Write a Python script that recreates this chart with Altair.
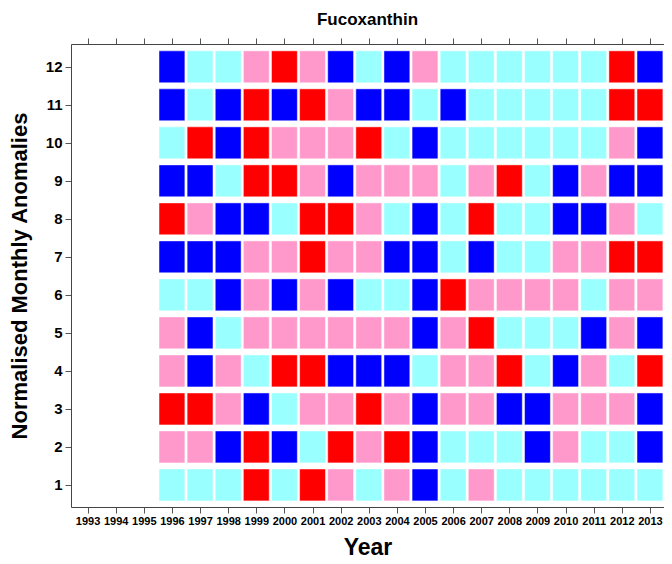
import altair as alt
import pandas as pd

years = list(range(1996, 2014))
month_labels = list(range(1, 13))

# anomaly class per month row, 1996..2013  (R=red, P=pink, C=cyan, B=blue)
m12 = list("BCCPRPBCBPCCCCCCRB")
m11 = list("BCBRBRPBBCBCCCCCRR")
m10 = list("CRBRPPPRCBCCCCCCPB")
m9 = list("BBCRRPBPPPCPRCBPBB")
m8 = list("RPBBCRRPCBCRCCBBPC")
m7 = list("BBBPPRPPBBCBCCPPRR")
m6 = list("CCBPBPBCCBRPPPPCPP")
m5 = list("PBCPPPPPPBPRCCCBPB")
m4 = list("PBPCRRBBBCPPRCBPCR")
m3 = list("RRPBCPPRPBPPBBPPPB")
m2 = list("PPBRBCRPRBCCCBPCCB")
m1 = list("CCCRCRPCPBCPCCCCCC")

rows = {1: m1, 2: m2, 3: m3, 4: m4, 5: m5, 6: m6, 7: m7, 8: m8,
        9: m9, 10: m10, 11: m11, 12: m12}

x_ticks = list(range(1993, 2014))
categories = ["R", "P", "C", "B"]
colors = ["#FF0000", "#FF99CC", "#99FFFF", "#0000FF"]

records = []
for m, vals in rows.items():
    for y, c in zip(years, vals):
        records.append({"year": y, "month": m, "cls": c})
df = pd.DataFrame(records)

FONT = "Liberation Sans"
xscale = alt.Scale(domain=[1992.41, 2013.5], nice=False, zero=False)
yscale = alt.Scale(domain=[0.42, 12.6], nice=False, zero=False)

base = alt.Chart(df).transform_calculate(
    x0="datum.year - 0.46", x1="datum.year + 0.46",
    y0="datum.month - 0.42", y1="datum.month + 0.42",
)

cells = base.mark_rect(stroke="white", strokeWidth=0.8, strokeOpacity=0.6).encode(
    x=alt.X("x0:Q", scale=xscale,
            axis=alt.Axis(orient="bottom", values=x_ticks, format="d", title="Year",
                          titleFontSize=23, titleFontWeight="bold", titleFont=FONT,
                          titleColor="black", titleY=47, titleBaseline="alphabetic",
                          labelFontSize=11, labelFontWeight="bold", labelFont=FONT,
                          labelColor="black", labelPadding=2, tickSize=6,
                          grid=False, domainColor="#444", tickColor="#555",
                          labelFlush=False, labelOverlap=False)),
    x2="x1:Q",
    y=alt.Y("y0:Q", scale=yscale,
            axis=alt.Axis(values=month_labels, format="d",
                          title="Normalised Monthly Anomalies",
                          titleFontSize=22, titleFontWeight="bold", titleFont=FONT,
                          titleColor="black", titleX=-45, titleY=231.5,
                          titleAngle=270, titleBaseline="alphabetic", titleAlign="center",
                          labelFontSize=15, labelFontWeight="bold", labelFont=FONT,
                          labelColor="black", labelPadding=3, tickSize=6,
                          grid=False, domainColor="#444", tickColor="#555",
                          labelFlush=False)),
    y2="y1:Q",
    color=alt.Color("cls:N", scale=alt.Scale(domain=categories, range=colors), legend=None),
)

top_axis = alt.Chart(pd.DataFrame({"year": x_ticks})).mark_tick(opacity=0).encode(
    x=alt.X("year:Q", scale=xscale,
            axis=alt.Axis(orient="top", values=x_ticks, labels=False, title="",
                          tickSize=6, grid=False, domainColor="#444", tickColor="#555")),
)

chart = alt.layer(cells, top_axis).resolve_axis(x="independent").properties(
    width=593,
    height=463,
    autosize=alt.AutoSizeParams(type="none"),
    padding={"left": 63, "top": 36, "right": 0, "bottom": 49},
    title=alt.TitleParams("Fucoxanthin", fontSize=17, fontWeight="bold", font=FONT,
                          color="black", offset=9, anchor="middle"),
).configure_view(stroke=None).configure(background="white")

chart.save("out.html", embed_options={"renderer": "svg", "actions": False})
